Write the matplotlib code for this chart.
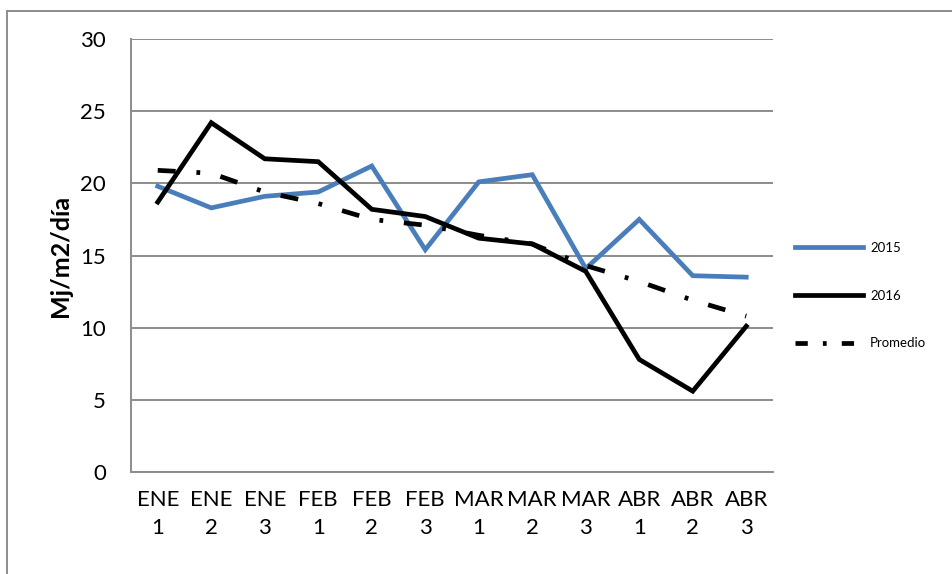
import numpy as np
import matplotlib.pyplot as plt
from matplotlib.lines import Line2D

# datos
periodos = ['ENE\n1', 'ENE\n2', 'ENE\n3', 'FEB\n1', 'FEB\n2', 'FEB\n3',
            'MAR\n1', 'MAR\n2', 'MAR\n3', 'ABR\n1', 'ABR\n2', 'ABR\n3']
y2015    = [19.8, 18.3, 19.1, 19.4, 21.2, 15.4, 20.1, 20.6, 14.1, 17.5, 13.6, 13.5]
y2016    = [18.7, 24.2, 21.7, 21.5, 18.2, 17.7, 16.2, 15.8, 13.9, 7.8, 5.6, 10.1]
promedio = [20.9, 20.7, 19.4, 18.6, 17.5, 17.1, 16.4, 15.8, 14.3, 13.2, 11.9, 10.8]
yticks   = [0, 5, 10, 15, 20, 25, 30]

plt.rcParams['font.family'] = ['Lato', 'DejaVu Sans']

fig = plt.figure(figsize=(9.52, 5.74), dpi=100)
ax = fig.add_axes([131/952, 1-472/574, 642/952, 433/574])

x = np.arange(len(periodos))
lw = 3.4
ax.plot(x, y2015, color='#4a7ebb', lw=lw, label='2015', solid_joinstyle='miter', zorder=3)
ax.plot(x, y2016, color='black', lw=lw, label='2016', solid_joinstyle='miter', zorder=4)
ax.plot(x, promedio, color='black', lw=lw, label='Promedio', dashes=(3.8, 4.4, 0.8, 4.4), zorder=5)

ax.set_xlim(-0.5, len(periodos)-0.5)
ax.set_ylim(0, 30)
ax.set_yticks(yticks)
ax.yaxis.grid(True, color='#8c8c8c', lw=1.4)
ax.set_axisbelow(True)
ax.set_xticks(x)
ax.set_xticklabels(periodos, fontsize=16, linespacing=1.5)
ax.tick_params(axis='y', labelsize=16, length=0, pad=18)
ax.tick_params(axis='x', length=0, pad=13)
for s in ['top', 'right']:
    ax.spines[s].set_visible(False)
for s in ['left', 'bottom']:
    ax.spines[s].set_color('#8c8c8c')
    ax.spines[s].set_linewidth(1.4)
ax.set_ylabel('Mj/m2/día', fontsize=18, fontweight='bold', labelpad=6)

leg = fig.legend(loc='upper left', bbox_to_anchor=(783/952, 1-230/574), frameon=False,
                 fontsize=9.5, handlelength=5.2, labelspacing=2.7, handletextpad=0.5)
leg.get_lines()[2].set_dashes((2.6, 3.2, 0.8, 3.2))

# marco exterior (solo lados visibles)
fig.add_artist(Line2D([7/952, 1], [1-10.5/574, 1-10.5/574], color='#8c8c8c', lw=1.4))
fig.add_artist(Line2D([7/952, 7/952], [0, 1-10.5/574], color='#8c8c8c', lw=1.4))

plt.savefig('out.png', dpi=100)
